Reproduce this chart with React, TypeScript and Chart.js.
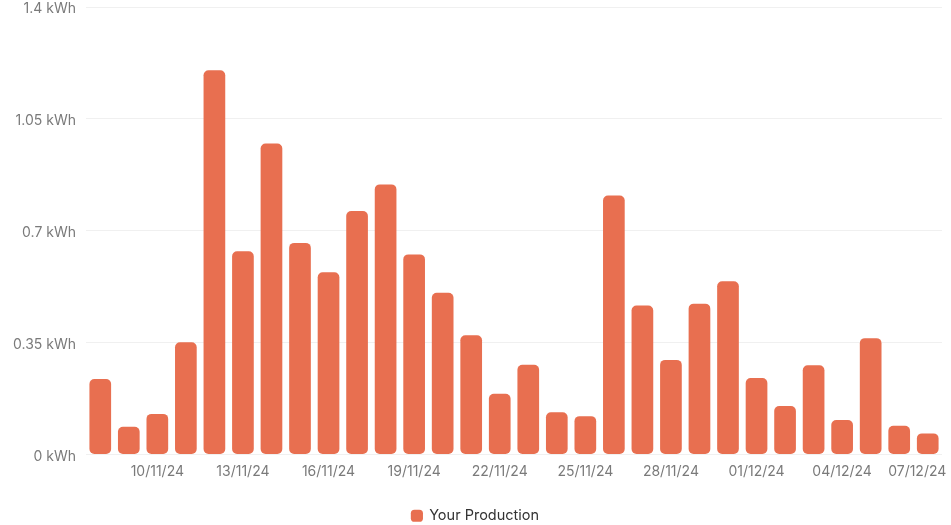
import React, { useEffect, useRef } from "react";
import { Chart, registerables } from "chart.js";

Chart.register(...registerables);

const categories: string[] = [
  "08/11/24", "09/11/24", "10/11/24", "11/11/24", "12/11/24", "13/11/24",
  "14/11/24", "15/11/24", "16/11/24", "17/11/24", "18/11/24", "19/11/24",
  "20/11/24", "21/11/24", "22/11/24", "23/11/24", "24/11/24", "25/11/24",
  "26/11/24", "27/11/24", "28/11/24", "29/11/24", "30/11/24", "01/12/24",
  "02/12/24", "03/12/24", "04/12/24", "05/12/24", "06/12/24", "07/12/24",
];

const production: number[] = [
  0.236, 0.087, 0.127, 0.351, 1.202, 0.636, 0.973, 0.662, 0.57, 0.762,
  0.845, 0.626, 0.506, 0.373, 0.19, 0.281, 0.132, 0.12, 0.81, 0.466,
  0.296, 0.472, 0.542, 0.239, 0.152, 0.279, 0.108, 0.364, 0.09, 0.066,
];

const yTicks: number[] = [0, 0.35, 0.7, 1.05, 1.4];
const seriesName = "Your Production";
const barColor = "#E86F50";

export default function App() {
  const ref = useRef<HTMLCanvasElement | null>(null);

  useEffect(() => {
    if (!ref.current) return;
    const chart = new Chart(ref.current, {
      type: "bar",
      data: {
        labels: categories,
        datasets: [
          {
            label: seriesName,
            data: production,
            backgroundColor: barColor,
            borderRadius: 5,
            borderSkipped: false,
            barPercentage: 0.76,
            categoryPercentage: 1,
          },
        ],
      },
      options: {
        animation: false,
        responsive: false,
        layout: { padding: { left: 9, right: 9, top: 0, bottom: -8 } },
        plugins: {
          tooltip: { enabled: false },
          legend: {
            position: "bottom",
            labels: {
              usePointStyle: true,
              pointStyle: "rectRounded",
              boxWidth: 10,
              boxHeight: 10,
              padding: 4,
              color: "#333333",
              font: { family: "Inter", size: 14.5 },
            },
          },
        },
        scales: {
          x: {
            grid: { display: false },
            border: { display: false },
            afterFit: (axis: any) => {
              axis.height = 50;
              axis.paddingLeft = 0;
              axis.paddingRight = 0;
            },
            ticks: {
              autoSkip: false,
              maxRotation: 0,
              minRotation: 0,
              padding: 1,
              color: "#7a7a7a",
              font: { family: "Inter", size: 14 },
              callback: (_v: any, i: number) => {
                if (i % 3 !== 2) return "";
                const lbl = categories[i];
                return i === categories.length - 1 ? lbl + "\u2002\u2002\u2002" : lbl;
              },
            },
          },
          y: {
            min: 0,
            max: 1.4,
            border: { display: false },
            grid: { color: "#f0f0f0", drawTicks: false },
            afterFit: (axis: any) => {
              axis.width = 77;
              axis.paddingTop = 7;
              axis.paddingBottom = 0;
            },
            afterBuildTicks: (axis: any) => {
              axis.ticks = yTicks.map((v) => ({ value: v }));
            },
            ticks: {
              padding: 10,
              labelOffset: 2,
              color: "#7a7a7a",
              font: { family: "Inter", size: 14 },
              callback: (v: any) => `${v} kWh`,
            },
          },
        },
      },
    });
    return () => chart.destroy();
  }, []);

  return (
    <div style={{ position: "absolute", left: 0, top: 0, width: 951, height: 525, background: "#fff" }}>
      <canvas ref={ref} width={951} height={525} style={{ display: "block" }} />
    </div>
  );
}
